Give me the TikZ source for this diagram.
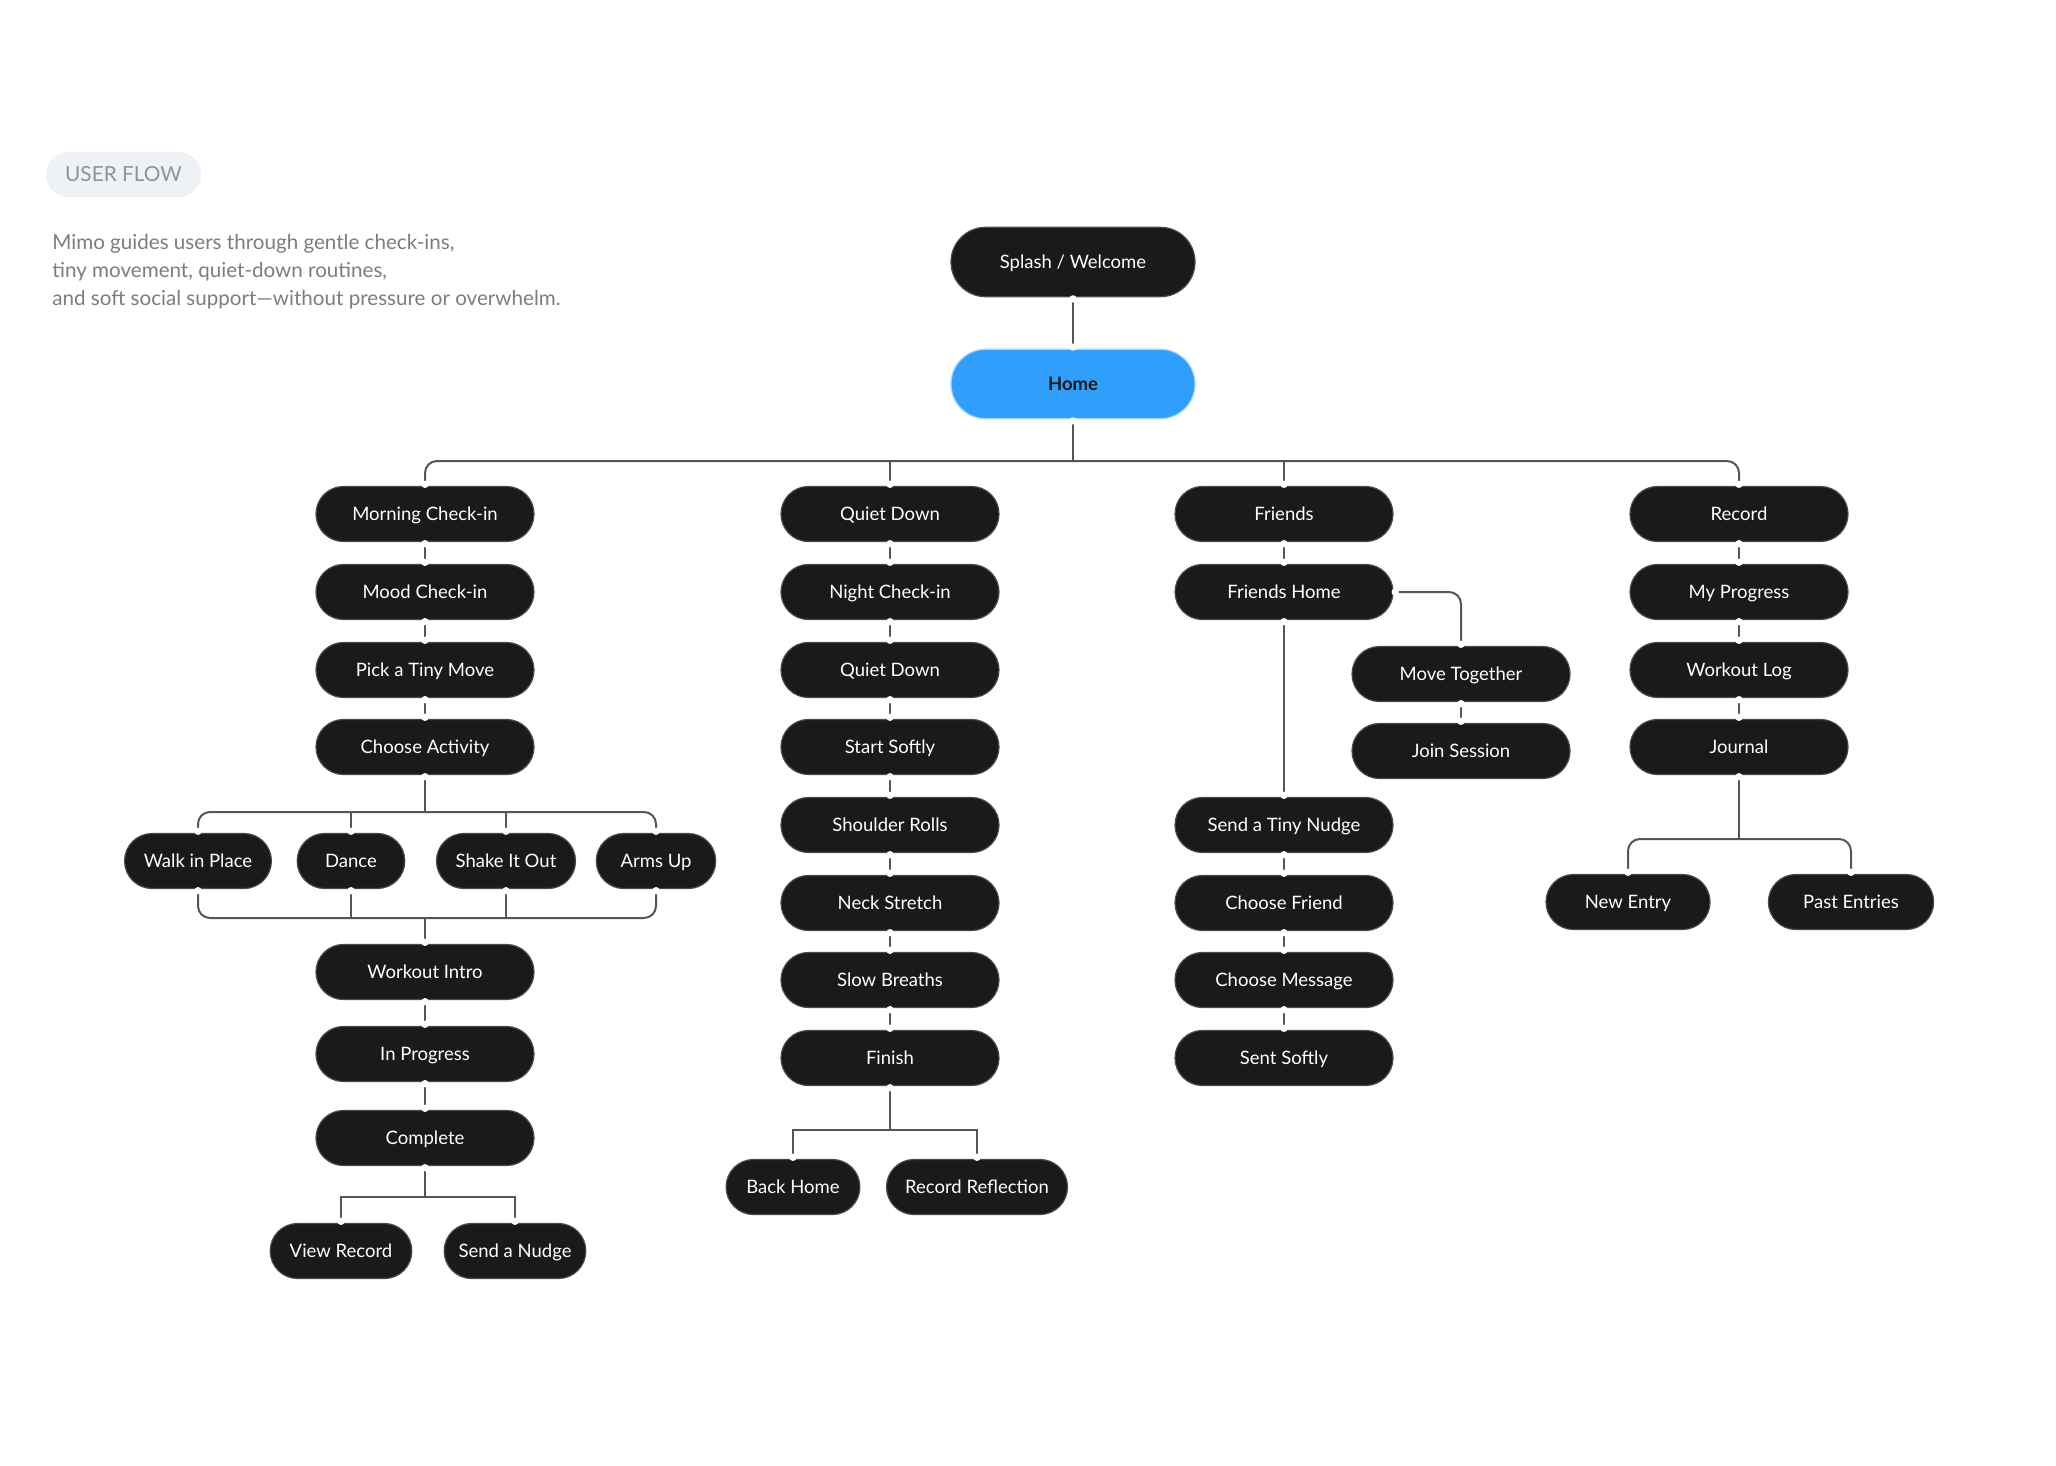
\documentclass[tikz,border=0pt]{standalone}
\usepackage{fontspec}
\setmainfont{Lato}
\usetikzlibrary{arrows.meta}

\definecolor{pill}{HTML}{1A1A1A}
\definecolor{pillrim}{HTML}{4A4A4A}
\definecolor{homeblue}{HTML}{2F9FFB}
\definecolor{homerim}{HTML}{A8D4FF}
\definecolor{wire}{HTML}{555555}
\definecolor{note}{HTML}{7A7D83}
\definecolor{tagbg}{HTML}{EEF1F5}
\definecolor{tagtext}{HTML}{8E949C}

\begin{document}
\begin{tikzpicture}[x=0.5pt,y=-0.5pt,
 screen/.style={draw=pillrim, line width=0.6pt, fill=pill, text=white, rounded corners=13.7pt,
  minimum width=109pt, minimum height=27.5pt, inner sep=0pt, text height=8pt, text depth=1.6pt,
  font=\fontsize{9.25}{11}\selectfont},
 bigscreen/.style={screen, minimum width=122pt, minimum height=34.7pt, rounded corners=17.3pt},
 link/.style={draw=wire, line width=1pt,
  {Circle[white,length=3.6pt,sep=0.8pt]}-{Circle[white,length=3.6pt,sep=0.8pt]},
  shorten <=-1.8pt, shorten >=-1.8pt},
 stem/.style={draw=wire, line width=1pt, {Circle[white,length=3.6pt,sep=0.8pt]}-, shorten <=-1.8pt},
 branch/.style={draw=wire, line width=1pt, -{Circle[white,length=3.6pt,sep=0.8pt]}, shorten >=-1.8pt}]

 \fill[white] (0,0) rectangle (2056,1466);
 \useasboundingbox (0,0) rectangle (2056,1466);

 % header
 \node[fill=tagbg, rounded corners=11.25pt, minimum width=77.5pt, minimum height=22.5pt,
  text=tagtext, font=\fontsize{10.4}{12}\selectfont] (tag) at (123.5,174.5) {USER FLOW};
 \node[anchor=west, align=left, text=note, inner sep=0pt, font=\fontsize{10.3}{14}\selectfont] (blurb) at (52,272)
  {Mimo guides users through gentle check-ins,\\ tiny movement, quiet-down routines,\\
   and soft social support---without pressure or overwhelm.};

 % top
 \node[bigscreen] (splash) at (1073,262) {Splash / Welcome};
 \node[bigscreen, fill=homeblue, draw=homerim, text=pill, font=\fontsize{9.25}{11}\selectfont\bfseries] (home) at (1073,384) {Home};
 \coordinate (hub) at (1073,461);

 % morning column
 \node[screen] (morning) at (425,514) {Morning Check-in};
 \node[screen] (mood) at (425,592) {Mood Check-in};
 \node[screen] (tinymove) at (425,670) {Pick a Tiny Move};
 \node[screen] (activity) at (425,747) {Choose Activity};
 \node[screen, minimum width=73.4pt] (walk) at (198,861) {Walk in Place};
 \node[screen, minimum width=53.8pt] (dance) at (351,861) {Dance};
 \node[screen, minimum width=69.5pt] (shake) at (506,861) {Shake It Out};
 \node[screen, minimum width=59.7pt] (armsup) at (656,861) {Arms Up};
 \coordinate (fanout) at (425,812);
 \coordinate (merge) at (425,918);
 \node[screen] (intro) at (425,972) {Workout Intro};
 \node[screen] (inprog) at (425,1054) {In Progress};
 \node[screen] (complete) at (425,1138) {Complete};
 \coordinate (donefan) at (425,1197);
 \node[screen, minimum width=70.8pt] (viewrec) at (341,1251) {View Record};
 \node[screen, minimum width=70.8pt] (sendnudge) at (515,1251) {Send a Nudge};

 % quiet column
 \node[screen] (quiet) at (890,514) {Quiet Down};
 \node[screen] (nightck) at (890,592) {Night Check-in};
 \node[screen] (quietdn) at (890,670) {Quiet Down};
 \node[screen] (softly) at (890,747) {Start Softly};
 \node[screen] (shoulders) at (890,825) {Shoulder Rolls};
 \node[screen] (neck) at (890,903) {Neck Stretch};
 \node[screen] (breaths) at (890,980) {Slow Breaths};
 \node[screen] (finish) at (890,1058) {Finish};
 \coordinate (finfan) at (890,1130);
 \node[screen, minimum width=66.9pt] (backhome) at (793,1187) {Back Home};
 \node[screen, minimum width=90.5pt] (reflect) at (977,1187) {Record Reflection};

 % friends column
 \node[screen] (friends) at (1284,514) {Friends};
 \node[screen] (fhome) at (1284,592) {Friends Home};
 \node[screen] (together) at (1461,674) {Move Together};
 \node[screen] (join) at (1461,751) {Join Session};
 \node[screen] (tinynudge) at (1284,825) {Send a Tiny Nudge};
 \node[screen] (pickfriend) at (1284,903) {Choose Friend};
 \node[screen] (pickmsg) at (1284,980) {Choose Message};
 \node[screen] (sent) at (1284,1058) {Sent Softly};

 % record column
 \node[screen] (record) at (1739,514) {Record};
 \node[screen] (myprog) at (1739,592) {My Progress};
 \node[screen] (wlog) at (1739,670) {Workout Log};
 \node[screen] (journal) at (1739,747) {Journal};
 \coordinate (jfan) at (1739,839);
 \node[screen, minimum width=82pt] (newentry) at (1628,902) {New Entry};
 \node[screen, minimum width=82.6pt] (pastentries) at (1851,902) {Past Entries};

 % trunk
 \draw[link] (splash) -- (home);
 \draw[stem] (home.south) -- (hub);
 \draw[branch, rounded corners=6pt] (hub) -| (morning.north);
 \draw[branch, rounded corners=6pt] (hub) -| (record.north);
 \draw[branch] (quiet.north |- hub) -- (quiet.north);
 \draw[branch] (friends.north |- hub) -- (friends.north);

 % morning flow
 \draw[link] (morning) -- (mood);
 \draw[link] (mood) -- (tinymove);
 \draw[link] (tinymove) -- (activity);
 \draw[stem] (activity.south) -- (fanout);
 \draw[branch, rounded corners=6pt] (fanout) -| (walk.north);
 \draw[branch, rounded corners=6pt] (fanout) -| (armsup.north);
 \draw[branch] (dance.north |- fanout) -- (dance.north);
 \draw[branch] (shake.north |- fanout) -- (shake.north);
 \draw[stem, rounded corners=6pt] (walk.south) |- (merge);
 \draw[stem, rounded corners=6pt] (armsup.south) |- (merge);
 \draw[stem] (dance.south) -- (dance.south |- merge);
 \draw[stem] (shake.south) -- (shake.south |- merge);
 \draw[branch] (merge) -- (intro.north);
 \draw[link] (intro) -- (inprog);
 \draw[link] (inprog) -- (complete);
 \draw[stem] (complete.south) -- (donefan);
 \draw[branch] (donefan) -| (viewrec.north);
 \draw[branch] (donefan) -| (sendnudge.north);

 % quiet flow
 \draw[link] (quiet) -- (nightck);
 \draw[link] (nightck) -- (quietdn);
 \draw[link] (quietdn) -- (softly);
 \draw[link] (softly) -- (shoulders);
 \draw[link] (shoulders) -- (neck);
 \draw[link] (neck) -- (breaths);
 \draw[link] (breaths) -- (finish);
 \draw[stem] (finish.south) -- (finfan);
 \draw[branch] (finfan) -| (backhome.north);
 \draw[branch] (finfan) -| (reflect.north);

 % friends flow
 \draw[link] (friends) -- (fhome);
 \draw[link, rounded corners=6pt] (fhome.east) -| (together.north);
 \draw[link] (together) -- (join);
 \draw[link] (fhome) -- (tinynudge);
 \draw[link] (tinynudge) -- (pickfriend);
 \draw[link] (pickfriend) -- (pickmsg);
 \draw[link] (pickmsg) -- (sent);

 % record flow
 \draw[link] (record) -- (myprog);
 \draw[link] (myprog) -- (wlog);
 \draw[link] (wlog) -- (journal);
 \draw[stem] (journal.south) -- (jfan);
 \draw[branch, rounded corners=6pt] (jfan) -| (newentry.north);
 \draw[branch, rounded corners=6pt] (jfan) -| (pastentries.north);
\end{tikzpicture}
\end{document}
